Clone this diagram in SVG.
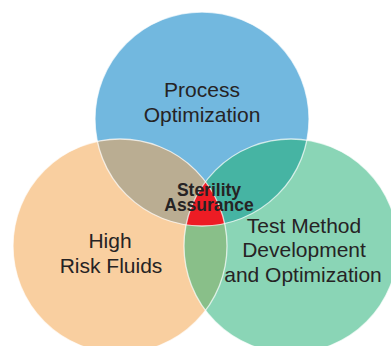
<svg xmlns="http://www.w3.org/2000/svg" width="391" height="346" viewBox="0 0 391 346">
  <style>
    .lbl { font-family: "Liberation Sans", Arial, Helvetica, sans-serif; font-size: 21px; fill: #262324; text-anchor: middle; }
    .core { font-family: "Liberation Sans", Arial, Helvetica, sans-serif; font-size: 17.5px; font-weight: bold; fill: #262324; text-anchor: middle; }
    .edge { fill: none; stroke: #ffffff; stroke-opacity: 0.7; stroke-width: 1.3; }
  </style>
  <defs>
    <clipPath id="cTop"><circle cx="202" cy="119" r="107"/></clipPath>
    <clipPath id="cLeft"><circle cx="120" cy="246" r="107"/></clipPath>
    <clipPath id="cRight"><circle cx="291" cy="246" r="107"/></clipPath>
  </defs>
  <rect width="391" height="346" fill="#ffffff"/>
  <g id="process-optimization">
    <circle cx="202" cy="119" r="107" fill="#72B8DF"/>
  </g>
  <g id="high-risk-fluids">
    <circle cx="120" cy="246" r="107" fill="#F9CFA0"/>
  </g>
  <g id="test-method">
    <circle cx="291" cy="246" r="107" fill="#8AD5B6"/>
  </g>
  <g id="overlaps">
    <g clip-path="url(#cTop)">
      <circle cx="120" cy="246" r="107" fill="#BAAD92"/>
      <circle cx="291" cy="246" r="107" fill="#46B4A3"/>
    </g>
    <g clip-path="url(#cLeft)">
      <circle cx="291" cy="246" r="107" fill="#89BF89"/>
    </g>
    <g id="sterility-assurance" clip-path="url(#cTop)">
      <g clip-path="url(#cLeft)">
        <circle cx="291" cy="246" r="107" fill="#ED1C24"/>
      </g>
    </g>
  </g>
  <g id="edges">
    <circle class="edge" cx="202" cy="119" r="107"/>
    <circle class="edge" cx="120" cy="246" r="107"/>
    <circle class="edge" cx="291" cy="246" r="107"/>
  </g>
  <g id="labels">
    <text class="lbl" x="202" y="97">Process</text>
    <text class="lbl" x="202" y="121.5">Optimization</text>
    <text class="lbl" x="110" y="247.5">High</text>
    <text class="lbl" x="111" y="272.5">Risk Fluids</text>
    <text class="lbl" x="304" y="232.5">Test Method</text>
    <text class="lbl" x="304" y="257">Development</text>
    <text class="lbl" x="303" y="281.5">and Optimization</text>
    <text class="core" x="209" y="196">Sterility</text>
    <text class="core" x="209" y="211">Assurance</text>
  </g>
</svg>
